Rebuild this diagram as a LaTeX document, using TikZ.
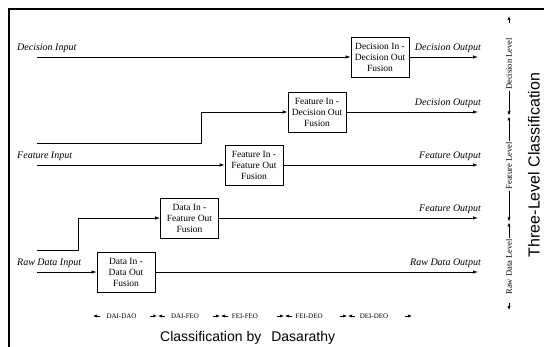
\documentclass[tikz,border=0pt]{standalone}
\usepackage{fontspec}
\setmainfont{Liberation Serif}
\newfontfamily\arialfont{Liberation Sans}
\usetikzlibrary{arrows.meta,calc}

\begin{document}
\begin{tikzpicture}[x=1pt,y=-1pt,
 fusion/.style={draw,line width=0.8pt,minimum width=58pt,minimum height=40pt,inner sep=1pt,
   align=center,font=\fontsize{9.5}{11}\selectfont},
 flow/.style={line width=0.8pt,-{Latex[length=5pt,width=3.5pt]}},
 iolabel/.style={font=\fontsize{10}{12}\selectfont\itshape,inner sep=0pt},
 lvl/.style={rotate=90,font=\fontsize{8.5}{10}\selectfont,inner sep=1pt},
 code/.style={font=\fontsize{7}{8}\selectfont,inner sep=0pt},
 tip/.style={line width=0.7pt,-{Latex[length=4pt,width=3.2pt]}}]
 \useasboundingbox (0,0) rectangle (544,347);
 \draw[line width=2pt] (544,9) -- (9,9) -- (9,347);

 % fusion boxes
 \node[fusion] (dido) at (380,57) {Decision In -\\Decision Out\\Fusion};
 \node[fusion] (fido) at (317,112) {Feature In -\\Decision Out\\Fusion};
 \node[fusion] (fifo) at (254,165) {Feature In -\\Feature Out\\Fusion};
 \node[fusion] (difo) at (189.5,218) {Data In -\\Feature Out\\Fusion};
 \node[fusion] (dado) at (126,272) {Data In -\\Data Out\\Fusion};

 % inputs
 \coordinate (decin) at (37,57);
 \coordinate (fdin) at (37,143);
 \coordinate (feain) at (37,165);
 \coordinate (dfin) at (37,250);
 \coordinate (rawin) at (37,272);
 \node[iolabel,anchor=base west] (decinlab) at (17,51) {Decision Input};
 \node[iolabel,anchor=base west] (feainlab) at (17,159) {Feature Input};
 \node[iolabel,anchor=base west] (rawinlab) at (17,266) {Raw Data Input};
 \draw[flow] (decin) -- (dido.west);
 \draw[flow] (fdin) -- ++(164,0) |- (fido.west);
 \draw[flow] (feain) -- (fifo.west);
 \draw[flow] (dfin) -- ++(41,0) |- (difo.west);
 \draw[flow] (rawin) -- (dado.west);

 % outputs
 \coordinate (decout) at (478,57);
 \coordinate (fdout) at (478,112);
 \coordinate (feaout) at (478,165);
 \coordinate (dfout) at (478,218);
 \coordinate (rawout) at (478,272);
 \draw[flow] (dido.east) -- (decout);
 \draw[flow] (fido.east) -- (fdout);
 \draw[flow] (fifo.east) -- (feaout);
 \draw[flow] (difo.east) -- (dfout);
 \draw[flow] (dado.east) -- (rawout);
 \node[iolabel,anchor=base east] (decoutlab) at (481,51) {Decision Output};
 \node[iolabel,anchor=base east] (fdoutlab) at (481,106) {Decision Output};
 \node[iolabel,anchor=base east] (feaoutlab) at (481,159) {Feature Output};
 \node[iolabel,anchor=base east] (dfoutlab) at (481,212) {Feature Output};
 \node[iolabel,anchor=base east] (rawoutlab) at (481,266) {Raw Data Output};

 % three-level scale
 \node[lvl] (declvl) at (509,64) {Decision Level};
 \node[lvl] (fealvl) at (509,166) {Feature Level};
 \node[lvl] (rawlvl) at (509,267) {Raw Data Level};
 \coordinate (lvtop) at (509,16);
 \coordinate (lvbot) at (509,310);
 \coordinate (m1) at (509,116);
 \coordinate (m2) at (509,222);
 \draw[tip] (509,23) -- (lvtop);
 \draw[tip] (declvl.west) -- ($(m1)+(0,-0.5)$);
 \draw[tip] (fealvl.east) -- ($(m1)+(0,0.5)$);
 \draw[tip] (fealvl.west) -- ($(m2)+(0,-0.5)$);
 \draw[tip] (rawlvl.east) -- ($(m2)+(0,0.5)$);
 \draw[tip] (509,303) -- (lvbot);
 \node[rotate=90,font=\arialfont\fontsize{16}{18}\selectfont] (three) at (534,165)
   {Three-Level Classification};

 % Dasarathy scale
 \node[code] (daidao) at (121.5,316) {DAI-DAO};
 \node[code] (daifeo) at (185,316) {DAI-FEO};
 \node[code] (feifeo) at (245,316) {FEI-FEO};
 \node[code] (feideo) at (309,316) {FEI-DEO};
 \node[code] (deideo) at (374,316) {DEI-DEO};
 \draw[tip] (100,316) -- (93,316);
 \foreach \m in {157.5,220.5,284.5,347.5}{
   \draw[tip] (\m-7.5,316) -- (\m-0.5,316);
   \draw[tip] (\m+7.5,316) -- (\m+0.5,316);
 }
 \draw[tip] (405,316) -- (412,316);
 \node[font=\arialfont\fontsize{14}{16}\selectfont,anchor=base west,inner sep=0pt] (dasar)
   at (160,342) {Classification by\hspace{10pt}Dasarathy};
\end{tikzpicture}
\end{document}
